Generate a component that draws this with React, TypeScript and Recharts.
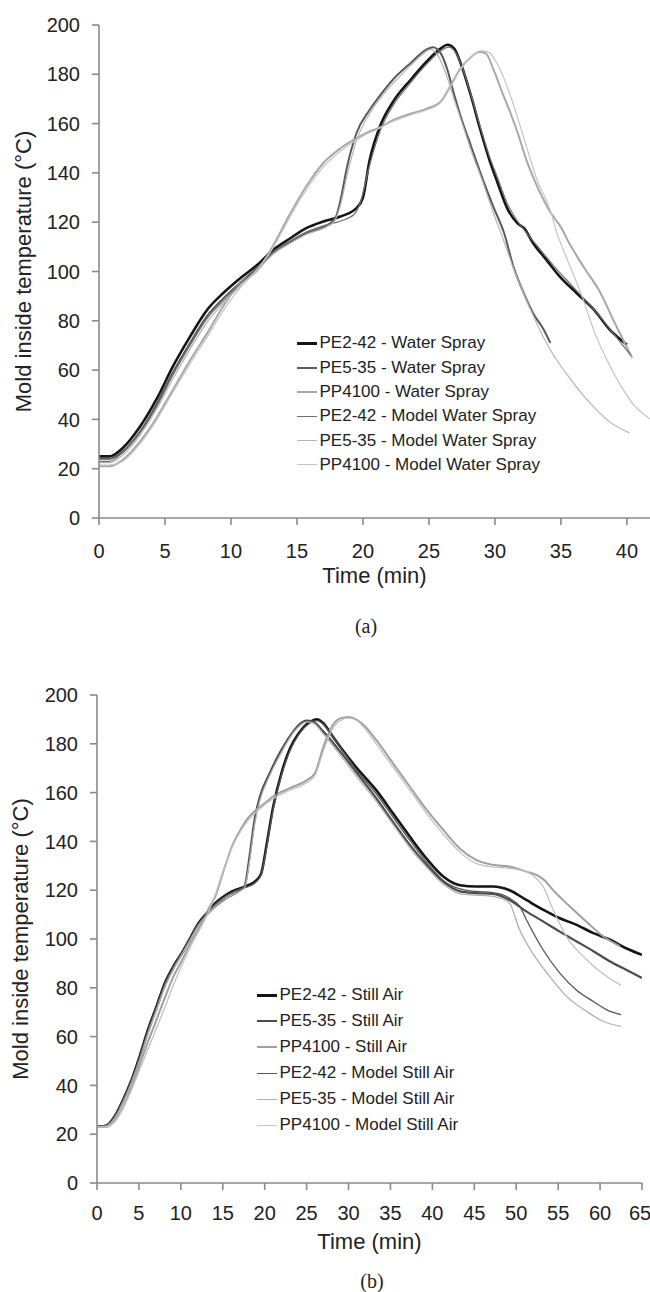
import React from "react";
import { LineChart, Line, XAxis, YAxis, Legend } from "recharts";

// ---------- (a) water spray ----------
const aTimePE242 = [0, 0.8, 1.8, 3.1, 4.4, 5.6, 6.9, 8.2, 9.4, 10.7, 12.0, 13.2, 14.5, 15.7, 17.0, 18.3, 19.5, 20.0, 20.5, 21.3, 22.3, 23.6, 24.8, 25.9, 26.4, 26.9, 27.4, 28.2, 28.9, 29.6, 30.2, 30.9, 31.7, 32.2, 32.9, 33.9, 34.9, 36.2, 37.5, 38.7, 40.0];
const aPE242Water = [25, 25, 28.4, 37, 48.6, 61.5, 73.6, 84.5, 91.2, 97.3, 102.7, 108.8, 113.5, 117.6, 120.3, 122.3, 125.7, 130, 145, 159, 169, 177.7, 185, 190.5, 192, 190.5, 184.5, 171, 157.4, 145, 136, 126, 119.6, 117.6, 111.5, 104.7, 98, 91.2, 84.5, 76.4, 70.3];

const aTimePE535 = [0, 0.8, 1.8, 3.1, 4.4, 5.6, 6.9, 8.2, 9.4, 10.7, 12.0, 13.2, 14.5, 15.7, 17.0, 17.9, 18.3, 18.8, 19.5, 20.5, 21.1, 22.3, 23.6, 24.8, 25.3, 25.9, 26.4, 26.9, 27.4, 28.2, 28.9, 29.9, 30.7, 31.4, 32.2, 32.9, 33.7, 34.2];
const aPE535Water = [24, 24, 27, 35, 46.5, 59, 71, 82, 89, 95.5, 101.5, 107.8, 112, 115.5, 118, 121.6, 129, 142.6, 156, 165.5, 170, 178, 184.5, 190, 191, 188.5, 181.8, 172, 163, 150.7, 140, 126, 115.5, 102, 91, 83, 76.4, 71];

const aTimePP4100 = [0, 0.8, 1.8, 3.1, 4.4, 5.6, 6.9, 8.2, 9.4, 10.7, 12.0, 12.7, 13.5, 14.5, 15.7, 17.0, 18.3, 19.5, 20.5, 21.1, 22.3, 23.6, 24.8, 25.9, 26.6, 27.4, 28.2, 28.8, 29.3, 29.9, 30.6, 31.2, 31.8, 32.4, 33.0, 33.6, 34.2, 34.6, 35.0, 35.5, 36.7, 38.0, 39.0, 40.4];
const aPP4100Water = [21, 21, 23.6, 31, 41, 52, 64, 75, 85.8, 95.3, 100.5, 106, 113.5, 123.6, 134.5, 144, 150, 154, 156.8, 158, 161.5, 164, 166, 169, 175, 182.4, 187, 189, 188.5, 181.8, 172, 164, 155, 145, 137, 130, 124, 121, 118, 112.8, 102, 91.3, 80, 65];

const aTimePE242Model = [0, 0.8, 1.8, 3.1, 4.4, 5.6, 6.9, 8.2, 9.4, 10.7, 12.0, 13.2, 14.5, 15.7, 17.0, 18.3, 19.3, 19.8, 20.5, 21.3, 22.3, 23.6, 24.8, 25.9, 26.5, 27.0, 27.5, 28.2, 28.9, 29.6, 30.2, 30.9, 31.7, 32.5, 33.5, 34.5, 35.8, 37.0, 38.3, 39.4, 40.3];
const aPE242Model = [23, 23, 26.5, 34.5, 45.5, 58, 70, 81, 88, 95, 101, 107.5, 112.5, 116, 118.5, 120.5, 123, 128, 143, 157, 167.5, 176.5, 184, 189.5, 191, 189, 183, 171.5, 158.5, 146.5, 138, 128, 120.5, 115, 108.5, 102, 94.5, 87.5, 79.5, 72, 66];

const aTimePE535Model = [0, 0.8, 1.8, 3.1, 4.4, 5.6, 6.9, 8.2, 9.4, 10.7, 12.0, 13.2, 14.5, 15.7, 17.0, 17.8, 18.3, 18.8, 19.5, 20.5, 21.5, 22.5, 23.6, 24.5, 25.1, 25.7, 26.3, 26.9, 27.5, 28.2, 29.0, 29.9, 30.7, 31.5, 32.3, 33.0, 33.7, 34.5, 35.5, 36.5, 37.5, 38.7, 40.2];
const aPE535Model = [22.5, 22.5, 25.5, 33.5, 44.5, 56.5, 68.5, 79.5, 87, 94, 100.5, 107, 111.5, 115, 117.5, 120, 127, 139, 153, 164, 171.5, 177.5, 183.5, 188, 190, 187.5, 180, 170, 160.5, 149, 137.5, 123.5, 112, 100, 89.5, 81, 73, 65.5, 58, 51, 45, 39, 34.5];

const aTimePP4100Model = [0, 0.8, 1.8, 3.1, 4.4, 5.6, 6.9, 8.2, 9.4, 10.7, 12.0, 13.0, 14.0, 15.0, 16.0, 17.0, 18.0, 19.0, 20.0, 21.0, 22.3, 23.6, 24.8, 25.9, 26.6, 27.4, 28.2, 28.9, 29.5, 30.2, 31.0, 31.8, 32.6, 33.2, 33.8, 34.3, 34.7, 35.2, 35.7, 36.7, 37.5, 38.5, 39.5, 40.5, 41.8];
const aPP4100Model = [21.5, 21.5, 23, 30, 40, 51, 62.5, 73.5, 84, 93.5, 101, 108, 117.5, 127, 135.5, 142.5, 147.5, 151.5, 155, 157.5, 161, 163.5, 165.5, 168.5, 174.5, 182, 187, 189.5, 189, 184, 174, 161, 147, 137, 130, 123, 115.5, 108.5, 102, 88.5, 76, 64, 54, 46, 40];

// ---------- (b) still air ----------
const bTimePE242 = [0, 1.1, 2.1, 3.1, 4.1, 5.1, 6.1, 7.1, 8.1, 9.1, 10.1, 11.1, 12.1, 13.1, 14.1, 15.1, 16.1, 17.1, 18.0, 19.0, 19.6, 20.2, 21.0, 22.0, 23.0, 24.0, 25.4, 26.2, 27.0, 28.0, 29.0, 31.0, 33.3, 35.3, 37.3, 39.3, 41.3, 43.3, 45.2, 47.2, 49.2, 51.2, 53.2, 55.2, 57.2, 59.2, 61.2, 63.1, 65.0];
const bPE242Air = [23, 23.5, 27.3, 34, 42, 52, 63, 72.4, 82, 88.7, 94.2, 100.3, 106.5, 110.6, 114.7, 117.4, 119.5, 120.8, 122, 124, 127, 138, 154, 168, 178, 184, 189, 190, 188.4, 183.6, 178.8, 170, 161, 151.5, 142, 133, 125.6, 122, 121.5, 121.5, 120, 116, 112, 108.5, 105.8, 102.4, 99.7, 96.2, 93.5];

const bTimePE535 = [0, 1.1, 2.1, 3.1, 4.1, 5.1, 6.1, 7.1, 8.1, 9.1, 10.1, 11.1, 12.1, 13.1, 14.1, 15.1, 16.1, 17.1, 17.6, 18.2, 18.8, 19.4, 20.6, 22.0, 23.4, 25.0, 25.8, 27.0, 29.0, 31.0, 33.3, 35.3, 37.3, 39.3, 41.3, 43.3, 45.2, 47.2, 49.2, 51.2, 53.2, 55.2, 57.2, 59.2, 61.2, 63.1, 65.0];
const bPE535Air = [23, 23.5, 27, 33.5, 41.5, 51, 62, 71.5, 81, 88, 93.8, 100, 106, 110, 113.5, 116, 118, 120, 121.5, 134, 149, 158, 168, 177.5, 185, 189.5, 189, 185, 176.8, 168, 157.7, 148, 138.6, 130.4, 123.5, 119.5, 118.8, 118.5, 116, 111.3, 107.2, 103, 99, 95, 90.8, 87.4, 84];

const bTimePP4100 = [0, 1.1, 2.1, 3.1, 4.1, 5.1, 6.1, 7.1, 8.1, 9.1, 10.1, 11.1, 12.1, 12.7, 13.4, 14.1, 15.1, 16.1, 17.1, 18.0, 19.0, 20.0, 21.0, 23.0, 25.0, 26.0, 27.0, 28.0, 29.0, 30.0, 31.0, 32.0, 33.3, 35.3, 37.3, 39.3, 41.3, 43.3, 45.2, 47.2, 49.2, 51.2, 52.4, 53.4, 54.4, 56.4, 58.4, 60.4, 62.4];
const bPP4100Air = [23, 23, 25.5, 31, 39, 48.5, 58, 67, 76, 84.5, 91, 98, 104, 108, 113, 117.4, 128, 138, 144.7, 149.5, 153, 155.6, 158.4, 161.8, 165, 168, 178.8, 187, 190.4, 191, 189.8, 187, 181.6, 172, 162.5, 153, 144.7, 137, 132.4, 130.4, 129.7, 127.6, 126.3, 124, 120, 113.3, 107, 101, 97];

const bTimePE242Model = [0, 1.1, 2.1, 3.1, 4.1, 5.1, 6.1, 7.1, 8.1, 9.1, 10.1, 11.1, 12.1, 13.1, 14.1, 15.1, 16.1, 17.1, 18.0, 19.0, 19.6, 20.2, 21.0, 22.0, 23.0, 24.0, 25.4, 26.2, 27.0, 28.0, 29.0, 31.0, 33.3, 35.3, 37.3, 39.3, 41.3, 43.3, 45.2, 47.2, 48.5, 49.5, 50.4, 51.2, 53.2, 55.2, 57.2, 59.2, 61.2, 62.5];
const bPE242Model = [23, 23.5, 27, 33.5, 41.5, 51.5, 62.5, 72, 81.5, 88.5, 94, 100, 106, 110.3, 114.3, 117, 119, 120.5, 121.5, 123.5, 126.5, 137, 153, 167, 177, 183.5, 188.5, 189.5, 188, 183.5, 178.5, 169, 159.5, 150, 140.5, 131.5, 124, 120.5, 119.5, 119, 118, 116, 113.5, 108, 95.6, 86, 79, 74.4, 70.3, 69];

const bTimePE535Model = [0, 1.1, 2.1, 3.1, 4.1, 5.1, 6.1, 7.1, 8.1, 9.1, 10.1, 11.1, 12.1, 13.1, 14.1, 15.1, 16.1, 17.1, 17.6, 18.2, 18.8, 19.4, 20.6, 22.0, 23.4, 25.0, 25.8, 27.0, 29.0, 31.0, 33.3, 35.3, 37.3, 39.3, 41.3, 43.3, 45.2, 47.2, 48.3, 49.2, 50.4, 52.0, 54.0, 56.0, 58.4, 60.4, 62.5];
const bPE535Model = [23, 23.3, 26.5, 33, 41, 50.5, 61.5, 71, 80.5, 87.5, 93.5, 99.5, 105.5, 109.8, 113.5, 116, 118, 119.8, 121, 132, 147, 156.5, 167, 176.5, 184.5, 189, 188.5, 184, 175.5, 166.5, 156.5, 147, 137.5, 129.5, 122.5, 118.5, 118, 117.5, 116.5, 114.7, 103.8, 94, 84.6, 76.5, 70.3, 66.2, 64.2];

const bTimePP4100Model = [0, 1.1, 2.1, 3.1, 4.1, 5.1, 6.1, 7.1, 8.1, 9.1, 10.1, 11.1, 12.1, 13.1, 14.1, 15.1, 16.1, 17.1, 18.0, 19.0, 20.0, 21.0, 23.0, 25.0, 26.0, 27.0, 28.0, 29.0, 30.0, 31.0, 32.0, 33.3, 35.3, 37.3, 39.3, 41.3, 43.3, 45.2, 47.2, 49.2, 51.2, 52.2, 53.2, 54.4, 56.0, 58.4, 60.8, 62.5];
const bPP4100Model = [23, 23, 25, 30.5, 38, 46.5, 55, 63.5, 72, 81, 89, 96.5, 103, 109.5, 118, 128.5, 137.5, 144, 148.5, 152, 155, 157.5, 161, 164, 167, 177, 185.5, 189.5, 190.5, 189.5, 186, 180, 170.5, 161, 151.5, 143, 135.5, 131, 129.5, 129, 127.5, 125.5, 121.5, 112, 101, 91.5, 84.6, 81];

const yTicks = [0, 20, 40, 60, 80, 100, 120, 140, 160, 180, 200];
const aXTicks = [0, 5, 10, 15, 20, 25, 30, 35, 40];
const bXTicks = [0, 5, 10, 15, 20, 25, 30, 35, 40, 45, 50, 55, 60, 65];

const pts = (ts: number[], vs: number[]) => ts.map((t, i) => ({ t, v: vs[i] }));

const seriesA = [
  { name: "PE2-42 - Water Spray", data: pts(aTimePE242, aPE242Water), color: "#151515", width: 2.6 },
  { name: "PE5-35 - Water Spray", data: pts(aTimePE535, aPE535Water), color: "#5a5a5a", width: 2 },
  { name: "PP4100 - Water Spray", data: pts(aTimePP4100, aPP4100Water), color: "#a8a8a8", width: 2 },
  { name: "PE2-42 - Model Water Spray", data: pts(aTimePE242Model, aPE242Model), color: "#6e6e6e", width: 1.2 },
  { name: "PE5-35 - Model Water Spray", data: pts(aTimePE535Model, aPE535Model), color: "#b4b4b4", width: 1.2 },
  { name: "PP4100 - Model Water Spray", data: pts(aTimePP4100Model, aPP4100Model), color: "#c4c4c4", width: 1.2 },
];

const seriesB = [
  { name: "PE2-42 - Still Air", data: pts(bTimePE242, bPE242Air), color: "#151515", width: 2.6 },
  { name: "PE5-35 - Still Air", data: pts(bTimePE535, bPE535Air), color: "#4c4c4c", width: 2.2 },
  { name: "PP4100 - Still Air", data: pts(bTimePP4100, bPP4100Air), color: "#a0a0a0", width: 2 },
  { name: "PE2-42 - Model Still Air", data: pts(bTimePE242Model, bPE242Model), color: "#555555", width: 1.3 },
  { name: "PE5-35 - Model Still Air", data: pts(bTimePE535Model, bPE535Model), color: "#b0b0b0", width: 1.3 },
  { name: "PP4100 - Model Still Air", data: pts(bTimePP4100Model, bPP4100Model), color: "#c2c2c2", width: 1.3 },
];

const font = "'Liberation Sans', Arial, sans-serif";
const axisGray = "#8a8a8a";
const textColor = "#222";

function LegendBox({ items, rowH }: any) {
  return (
    <div style={{ fontFamily: font, fontSize: 17, color: textColor }}>
      {items.map((s: any) => (
        <div key={s.name} style={{ height: rowH, display: "flex", alignItems: "center", whiteSpace: "nowrap" }}>
          <div style={{ width: 20, height: 0, borderTop: `${Math.max(s.width + 0.4, 1.5)}px solid ${s.color}`, marginRight: 2.5 }} />
          <span>{s.name}</span>
        </div>
      ))}
    </div>
  );
}

function Panel({ series, xTicks, xMax, w, h, margin, yAxisW, xAxisH, xTickMargin, titleOffset, yTitleOffset, legendPos, rowH }: any) {
  return (
    <LineChart width={w} height={h} margin={margin}>
      <XAxis
        type="number"
        dataKey="t"
        domain={[0, xMax]}
        ticks={xTicks}
        allowDataOverflow
        height={xAxisH}
        tickSize={7}
        tickMargin={xTickMargin}
        axisLine={{ stroke: axisGray, strokeWidth: 1.6 }}
        tickLine={{ stroke: axisGray, strokeWidth: 1.6 }}
        tick={{ fontSize: 20, fill: textColor, fontFamily: font }}
        label={{ value: "Time (min)", position: "insideBottom", offset: titleOffset, fontSize: 22, fill: textColor, fontFamily: font }}
      />
      <YAxis
        type="number"
        domain={[0, 200]}
        ticks={yTicks}
        width={yAxisW}
        tickSize={7}
        tickMargin={12}
        axisLine={{ stroke: axisGray, strokeWidth: 1.6 }}
        tickLine={{ stroke: axisGray, strokeWidth: 1.6 }}
        tick={{ fontSize: 20, fill: textColor, fontFamily: font }}
        label={{
          value: "Mold inside temperature (°C)",
          angle: -90,
          position: "insideLeft",
          offset: yTitleOffset,
          fontSize: 22,
          fill: textColor,
          fontFamily: font,
          style: { textAnchor: "middle" },
        }}
      />
      {series.map((s: any) => (
        <Line
          key={s.name}
          data={s.data}
          dataKey="v"
          name={s.name}
          type="monotone"
          stroke={s.color}
          strokeWidth={s.width}
          dot={false}
          activeDot={false}
          isAnimationActive={false}
        />
      ))}
      <Legend
        layout="vertical"
        align="center"
        verticalAlign="middle"
        wrapperStyle={{ left: legendPos.left, top: legendPos.top, width: 280 }}
        content={() => <LegendBox items={series} rowH={rowH} />}
      />
    </LineChart>
  );
}

const captionStyle: any = {
  position: "absolute",
  width: 60,
  textAlign: "center",
  fontFamily: "'Liberation Serif', 'Times New Roman', serif",
  fontSize: 20,
  lineHeight: "24px",
  color: textColor,
};

export default function App() {
  return (
    <div style={{ position: "absolute", left: 0, top: 0, width: 650, height: 1292, background: "#fff", overflow: "hidden" }}>
      <div style={{ position: "absolute", left: 0, top: 0 }}>
        <Panel
          series={seriesA}
          xTicks={aXTicks}
          xMax={41.75}
          w={650}
          h={645}
          margin={{ top: 25, right: 0, bottom: 0, left: 0 }}
          yAxisW={99}
          xAxisH={127}
          xTickMargin={19}
          titleOffset={62}
          yTitleOffset={23}
          legendPos={{ left: 297, top: 331 }}
          rowH={24.35}
        />
      </div>
      <div style={{ ...captionStyle, left: 336, top: 614 }}>(a)</div>
      <div style={{ position: "absolute", left: 0, top: 650 }}>
        <Panel
          series={seriesB}
          xTicks={bXTicks}
          xMax={65}
          w={650}
          h={642}
          margin={{ top: 45, right: 8, bottom: 0, left: 0 }}
          yAxisW={97}
          xAxisH={109}
          xTickMargin={16}
          titleOffset={43}
          yTitleOffset={20}
          legendPos={{ left: 257, top: 332 }}
          rowH={26}
        />
      </div>
      <div style={{ ...captionStyle, left: 342, top: 1269 }}>(b)</div>
    </div>
  );
}
